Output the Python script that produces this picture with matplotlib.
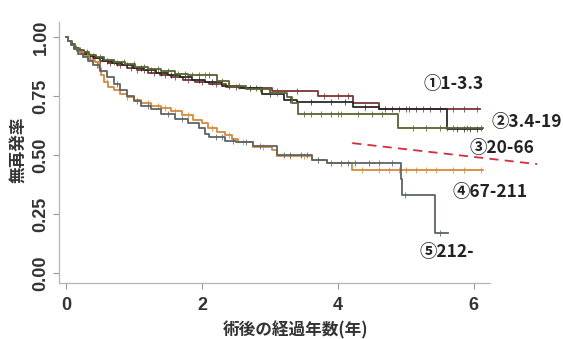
import numpy as np
import matplotlib
matplotlib.use("Agg")
import matplotlib.pyplot as plt

# ---------------- data ----------------
g1_t = [0, 0.03, 0.07, 0.11, 0.16, 0.22, 0.30, 0.40, 0.50, 0.62, 0.75, 0.90, 1.05, 1.20, 1.38, 1.55, 1.72, 1.90, 2.10, 2.35, 2.60, 3.03, 3.70, 4.22, 4.60, 6.09]
g1_s = [1.0, 0.985, 0.97, 0.955, 0.945, 0.935, 0.92, 0.91, 0.90, 0.89, 0.88, 0.87, 0.86, 0.85, 0.84, 0.83, 0.82, 0.81, 0.80, 0.79, 0.785, 0.77, 0.75, 0.72, 0.695, 0.695]
g1_c = [0.2, 0.35, 0.5, 0.65, 0.8, 0.95, 1.05, 1.15, 1.3, 1.45, 1.6, 1.8, 2.0, 2.2, 2.5, 2.8, 3.1, 3.4, 3.8, 4.0, 4.15, 4.7, 4.8, 4.9, 5.0, 5.05, 5.15, 5.25, 5.35, 5.5, 5.7, 5.85, 6.05]

g2_t = [0, 0.03, 0.07, 0.12, 0.17, 0.24, 0.32, 0.42, 0.55, 0.68, 0.82, 0.98, 1.15, 1.32, 1.50, 1.68, 1.85, 2.05, 2.30, 2.55, 2.88, 3.20, 3.40, 4.22, 4.60, 5.60, 6.12]
g2_s = [1.0, 0.985, 0.97, 0.955, 0.94, 0.93, 0.92, 0.91, 0.90, 0.89, 0.88, 0.87, 0.86, 0.85, 0.84, 0.83, 0.82, 0.81, 0.795, 0.785, 0.76, 0.735, 0.725, 0.705, 0.695, 0.61, 0.61]
g2_c = [0.25, 0.4, 0.6, 0.75, 0.9, 1.1, 1.25, 1.4, 1.55, 1.75, 1.95, 2.15, 2.4, 2.7, 3.0, 3.3, 3.6, 3.9, 4.1, 4.4, 5.75, 5.85, 5.95, 6.05]

g3_t = [0, 0.03, 0.08, 0.13, 0.19, 0.26, 0.34, 0.44, 0.56, 0.70, 0.86, 1.02, 1.20, 1.40, 1.60, 1.80, 2.22, 2.40, 2.65, 3.00, 3.25, 3.33, 3.41, 4.88, 6.13]
g3_s = [1.0, 0.985, 0.97, 0.955, 0.945, 0.935, 0.925, 0.915, 0.905, 0.895, 0.885, 0.875, 0.865, 0.855, 0.845, 0.84, 0.815, 0.795, 0.78, 0.765, 0.745, 0.72, 0.675, 0.615, 0.615]
g3_c = [0.15, 0.3, 0.5, 0.7, 0.85, 1.0, 1.15, 1.35, 1.5, 1.65, 1.75, 1.85, 1.95, 2.05, 2.1, 2.3, 2.55, 2.85, 3.1, 3.5, 3.6, 3.75, 3.9, 4.0, 4.05, 4.3, 4.5, 4.65, 5.1, 5.3, 5.5, 5.6, 5.7, 5.9, 6.1]

g4_t = [0, 0.03, 0.07, 0.12, 0.18, 0.25, 0.33, 0.42, 0.48, 0.52, 0.56, 0.62, 0.70, 0.80, 0.90, 1.00, 1.10, 1.25, 1.40, 1.55, 1.70, 1.87, 2.00, 2.09, 2.22, 2.34, 2.44, 2.53, 2.75, 3.03, 3.10, 3.62, 3.84, 4.20, 6.13]
g4_s = [1.0, 0.985, 0.965, 0.95, 0.935, 0.92, 0.905, 0.895, 0.87, 0.84, 0.81, 0.79, 0.775, 0.76, 0.745, 0.735, 0.72, 0.71, 0.70, 0.685, 0.67, 0.65, 0.635, 0.615, 0.60, 0.585, 0.57, 0.555, 0.535, 0.52, 0.495, 0.48, 0.465, 0.435, 0.435]
g4_c = [0.3, 0.6, 0.9, 1.2, 1.35, 1.45, 1.6, 1.8, 2.15, 2.4, 2.6, 2.9, 3.3, 3.5, 3.7, 4.35, 4.6, 4.75, 4.9, 5.0, 5.15, 5.3, 5.45, 5.7, 5.85, 6.1]

g5_t = [0, 0.03, 0.07, 0.12, 0.18, 0.25, 0.32, 0.40, 0.50, 0.60, 0.70, 0.80, 0.90, 1.00, 1.10, 1.25, 1.40, 1.60, 1.80, 1.95, 2.05, 2.10, 2.34, 2.50, 2.75, 3.10, 3.62, 3.84, 4.93, 4.95, 5.43, 5.62]
g5_s = [1.0, 0.985, 0.965, 0.95, 0.93, 0.915, 0.90, 0.88, 0.855, 0.83, 0.80, 0.775, 0.75, 0.73, 0.71, 0.695, 0.675, 0.655, 0.635, 0.615, 0.59, 0.576, 0.56, 0.555, 0.54, 0.50, 0.48, 0.465, 0.40, 0.33, 0.17, 0.17]
g5_c = [0.45, 0.75, 1.05, 1.2, 1.5, 1.7, 2.2, 2.3, 2.45, 2.65, 2.85, 3.2, 3.3, 3.45, 3.55, 3.7, 3.9, 4.05, 4.15, 4.25, 4.45, 4.6, 4.8, 4.98, 5.5]

group_labels = ["\u24601-3.3", "\u24613.4-19", "\u246220-66", "\u246367-211", "\u2464212-"]
x_ticks = [0, 2, 4, 6]
y_ticks = [0.00, 0.25, 0.50, 0.75, 1.00]
xlabel = "術後の経過年数(年)"
ylabel = "無再発率"

# annotation positions (time, survival)
label_pos = [(5.26, 0.80), (6.26, 0.64), (5.93, 0.53), (5.68, 0.345), (5.20, 0.09)]
dash_line_t = [4.21, 6.93]
dash_line_s = [0.551, 0.462]

colors = ["#7a3535", "#2a2a2a", "#56652e", "#d9893a", "#5c6464"]

# ---------------- plot ----------------
fig = plt.figure(figsize=(5.63, 3.39), dpi=100)
ax = fig.add_axes([0.105, 0.165, 0.765, 0.77])

groups = [(g1_t, g1_s, g1_c), (g2_t, g2_s, g2_c), (g3_t, g3_s, g3_c),
          (g4_t, g4_s, g4_c), (g5_t, g5_s, g5_c)]
order = [4, 3, 2, 0, 1]
for i in order:
    t, s, c = groups[i]
    ax.step(t, s, where="post", color=colors[i], lw=1.3, zorder=3 + i * 0.1)
    t_arr = np.array(t)
    s_arr = np.array(s)
    idx = np.searchsorted(t_arr, np.array(c), side="right") - 1
    ax.plot(c, s_arr[idx], ls="none", marker="|", ms=5, mew=0.7,
            color=colors[i], alpha=0.8, zorder=3 + i * 0.1)

ax.plot(dash_line_t, dash_line_s, ls=(0, (5, 3.5)), color="#d42d3e", lw=1.3,
        clip_on=False, zorder=5)

for lab, (tx, sy) in zip(group_labels, label_pos):
    ax.text(tx, sy, lab, fontsize=12.5, fontweight="bold", color="#222222",
            family=["Noto Sans CJK JP", "DejaVu Sans"], va="center", ha="left",
            clip_on=False)

ax.set_xlim(-0.103, 6.235)
ax.set_ylim(-0.042, 1.064)
ax.set_xticks(x_ticks)
ax.set_xticklabels([str(v) for v in x_ticks])
ax.set_yticks(y_ticks)
ax.set_yticklabels([f"{v:.2f}" for v in y_ticks])

for sp in ["top", "right"]:
    ax.spines[sp].set_visible(False)
for sp in ["left", "bottom"]:
    ax.spines[sp].set_color("#b5b5b5")
    ax.spines[sp].set_linewidth(0.9)

ax.tick_params(axis="both", color="#9a9a9a", length=4, width=0.8)
ax.tick_params(axis="x", pad=6)
ax.tick_params(axis="y", pad=3)
for lab in ax.get_xticklabels():
    lab.set_family("Liberation Sans")
    lab.set_fontweight("bold")
    lab.set_fontsize(13)
    lab.set_color("#333333")
for lab in ax.get_yticklabels():
    lab.set_family("Liberation Sans")
    lab.set_fontweight("bold")
    lab.set_fontsize(13)
    lab.set_color("#333333")
    lab.set_rotation(90)
    lab.set_va("center")

ax.set_xlabel(xlabel, family=["Noto Sans CJK JP", "DejaVu Sans"], fontsize=12,
              fontweight="bold", color="#333333")
ax.xaxis.set_label_coords(0.55, -0.145)
ax.set_ylabel(ylabel, family=["Noto Sans CJK JP", "DejaVu Sans"], fontsize=12,
              fontweight="bold", color="#333333")
ax.yaxis.set_label_coords(-0.075, 0.51)

fig.savefig("out.png", dpi=100)
